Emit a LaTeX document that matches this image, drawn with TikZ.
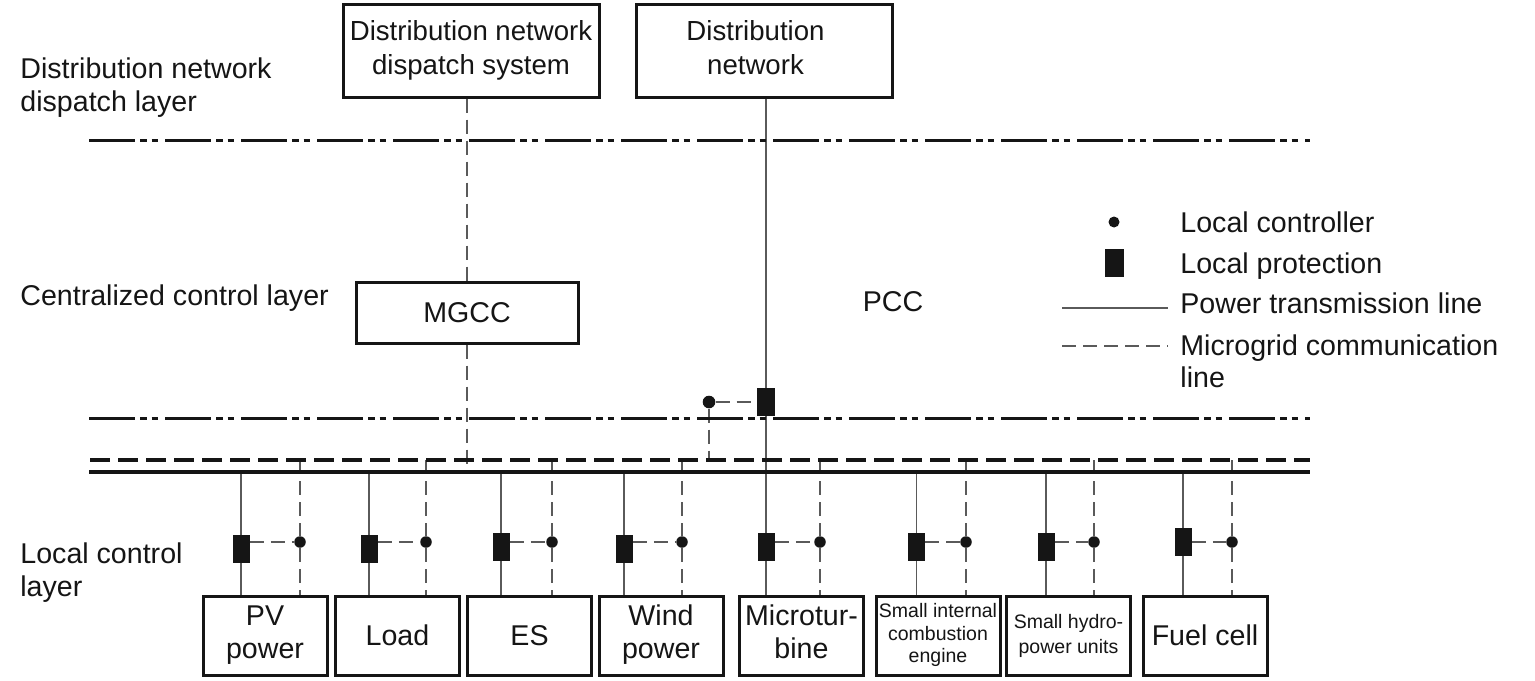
\documentclass[tikz,border=0pt]{standalone}
\usepackage{fontspec}
\setmainfont{Liberation Sans}
\definecolor{ink}{HTML}{151515}
\definecolor{wire}{HTML}{5A5A5A}
\begin{document}
\begin{tikzpicture}[x=0.5pt,y=-0.5pt,
  every node/.style={inner sep=0pt, text=ink},
  bigtxt/.style={font=\fontsize{14.3}{16.5}\selectfont},
  toptxt/.style={font=\fontsize{13.8}{17}\selectfont},
  smalltxt/.style={font=\fontsize{9.75}{11.25}\selectfont},
  topbox/.style={draw=ink, line width=1.5pt, fill=white, minimum width=128pt, minimum height=46.5pt, align=center, toptxt},
  unitbox/.style={draw=ink, line width=1.5pt, fill=white, minimum width=62pt, minimum height=39.5pt, align=center, bigtxt},
  prot/.style={draw=none, fill=ink, rectangle, minimum width=8.5pt, minimum height=14pt},
  ctrl/.style={draw=none, fill=ink, circle, minimum size=5.75pt},
  power/.style={draw=wire, line width=0.9pt},
  comm/.style={draw=wire, line width=0.9pt, dash pattern=on 7pt off 3.5pt},
  layerline/.style={draw=ink, line width=1.5pt, dash pattern=on 23pt off 2.5pt on 3.5pt off 2.25pt on 3.25pt off 3.5pt},
  busdash/.style={draw=ink, line width=1.75pt, dash pattern=on 9.75pt off 4.25pt},
  bussolid/.style={draw=ink, line width=1.75pt}
]
\useasboundingbox (0,0) rectangle (1535,680);
\fill[white] (0,0) rectangle (1535,680);

% layer labels
\node[bigtxt, align=left, anchor=west] (lab1) at (20,88) {\strut Distribution network\\\strut dispatch layer};
\node[bigtxt, anchor=base west] (lab2) at (20,305) {Centralized control layer};
\node[bigtxt, align=left, anchor=west] (lab3) at (20,573) {\strut Local control\\\strut layer};

% top boxes
\node[topbox] (dnds) at (471,50.5) {\strut Distribution network\\\strut dispatch system};
\node[topbox] (dn) at (764.5,50.5) {\strut Distribution\hspace*{9pt}\\\strut network\hspace*{9pt}};
\node[draw=ink, line width=1.5pt, fill=white, minimum width=111pt, minimum height=30.5pt, bigtxt] (mgcc) at (467,312.5) {MGCC};
\node[bigtxt, anchor=base] (pcctxt) at (893,311) {PCC};

% layer lines and buses
\coordinate (ddaL) at (89,140); \coordinate (ddaR) at (1310,140);
\coordinate (ddbL) at (89,418); \coordinate (ddbR) at (1310,418);
\coordinate (busDL) at (90,460); \coordinate (busDR) at (1310,460);
\coordinate (busSL) at (89,472); \coordinate (busSR) at (1310,472);

% bottom boxes
\node[unitbox] (u1) at (265,635.5) {\strut PV\\\strut power};
\node[unitbox] (u2) at (397.5,635.5) {Load};
\node[unitbox] (u3) at (529.5,635.5) {ES};
\node[unitbox] (u4) at (661,635.5) {\strut Wind\\\strut power};
\node[unitbox] (u5) at (801.5,635.5) {\strut Microtur-\\\strut bine};
\node[unitbox, smalltxt] (u6) at (938,635.5) {\strut Small internal\\\strut combustion\\\strut engine};
\node[unitbox, font=\fontsize{9.75}{12.5}\selectfont] (u7) at (1068.5,635.5) {\strut Small hydro-\\\strut power units};
\node[unitbox] (u8) at (1205,635.5) {Fuel cell};

% vertical links from top
\draw[comm] (mgcc.north |- dnds.south) -- (mgcc.north);
\draw[comm] (mgcc.south) -- (mgcc.south |- busSL);

\node[prot, minimum width=9pt] (pcc) at (766,402) {};
\node[ctrl, minimum size=6.3pt] (pccc) at (709,402) {};
\draw[power] (pcc.north |- dn.south) -- (pcc.north);
\draw[comm] (pccc) -- (pcc);
\draw[comm] (pccc) -- (pccc |- busDL);

% units
\foreach \i/\xs/\xd/\yp in {1/241/300/549, 2/369/426/549, 3/501/552/547, 4/624/682/549, 5/766/820/547, 6/916.5/966/547, 7/1046/1094/547, 8/1183/1232/542} {
  \coordinate (bs\i) at (\xs,472);
  \coordinate (bd\i) at (\xd,460);
  \node[prot] (p\i) at (\xs,\yp) {};
  \node[ctrl] (c\i) at (\xd,542) {};
  \draw[power] (bs\i) -- (p\i.north);
  \draw[power] (p\i.south) -- (p\i.south |- u\i.north);
  \draw[comm] (bd\i) -- (c\i.north);
  \draw[comm] (c\i.south) -- (c\i.south |- u\i.north);
  \draw[comm] (p\i.east |- c\i.west) -- (c\i.west);
}
\draw[power] (pcc.south) -- (p5.north);

\draw[layerline] (ddaL) -- (ddaR);
\draw[layerline] (ddbL) -- (ddbR);
\draw[busdash] (busDL) -- (busDR);
\draw[bussolid] (busSL) -- (busSR);

% legend
\node[ctrl, minimum size=5.5pt] (ldot) at (1114,222) {};
\node[prot, minimum width=9.5pt] (lrect) at (1114.5,263) {};
\coordinate (lp1) at (1062,308); \coordinate (lp2) at (1168,308);
\coordinate (lc1) at (1062,346); \coordinate (lc2) at (1168,346);
\draw[power] (lp1) -- (lp2);
\draw[comm] (lc1) -- (lc2);
\node[bigtxt, anchor=base west] (lt1) at (1180,232) {Local controller};
\node[bigtxt, anchor=base west] (lt2) at (1180,273) {Local protection};
\node[bigtxt, anchor=base west] (lt3) at (1180,313) {Power transmission line};
\node[bigtxt, align=left, anchor=west, font=\fontsize{14.3}{16}\selectfont] (lt4) at (1180,364.6) {\strut Microgrid communication\\\strut line};
\end{tikzpicture}
\end{document}
